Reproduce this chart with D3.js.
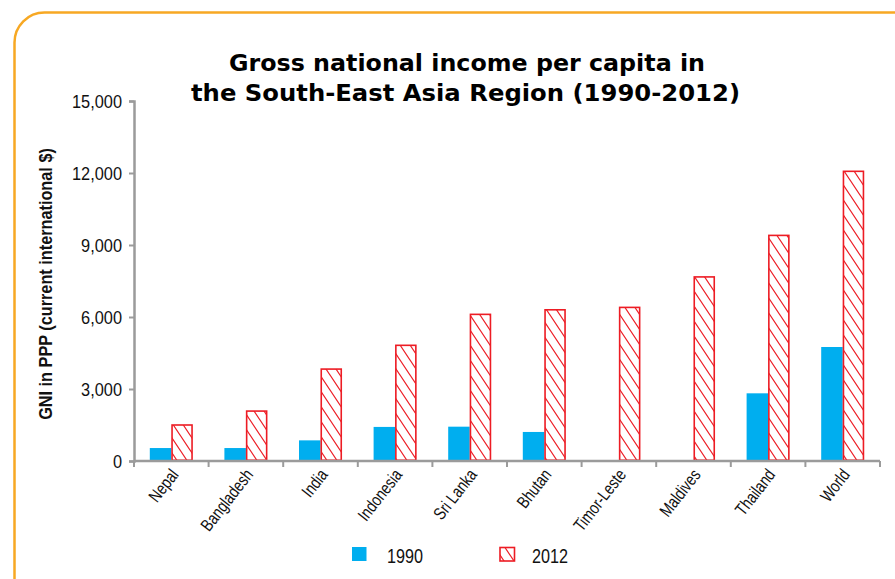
<!DOCTYPE html>
<html><head><meta charset="utf-8">
<script src="https://cdn.jsdelivr.net/npm/d3@7"></script>
<style>
html,body{margin:0;padding:0;background:#fff;}
svg{display:block;}
</style></head>
<body>
<svg id="chart" width="895" height="579"></svg>
<script>
const categories = ["Nepal","Bangladesh","India","Indonesia","Sri Lanka","Bhutan","Timor-Leste","Maldives","Thailand","World"];
const values1990 = [540, 540, 860, 1420, 1430, 1210, null, null, 2820, 4750];
const values2012 = [1500, 2080, 3830, 4820, 6110, 6300, 6400, 7670, 9400, 12070];
const yTicks = [0, 3000, 6000, 9000, 12000, 15000];
const seriesNames = ["1990", "2012"];
const titleLines = ["Gross national income per capita in", "the South-East Asia Region (1990-2012)"];
const yLabel = "GNI in PPP (current international $)";

const blue = "#00aeef", red = "#ed1c24", axisGray = "#9b9b9b";
const SANS = "Liberation Sans, Arial, Helvetica, sans-serif";
const svg = d3.select("#chart");
const mLeft = 134, mRight = 880, mTop = 101, mBottom = 461;

function measure(str, size, weight) {
  const t = svg.append("text").attr("font-family",SANS).attr("font-size",size)
    .attr("font-weight",weight||"normal").text(str);
  const w = t.node().getComputedTextLength();
  t.remove();
  return w;
}

const defs = svg.append("defs");
const pat = defs.append("pattern").attr("id","hatch").attr("patternUnits","userSpaceOnUse")
  .attr("width",10).attr("height",15);
pat.append("rect").attr("width",10).attr("height",15).attr("fill","#fff");
pat.append("path").attr("d","M-10,-15L20,30M-20,-15L10,30M0,-15L30,30").attr("stroke",red).attr("stroke-width",1.2).attr("fill","none");

// frame
svg.append("rect").attr("x",14.5).attr("y",12.5).attr("width",920).attr("height",620)
  .attr("rx",30).attr("ry",30).attr("fill","none").attr("stroke","#f7a823").attr("stroke-width",2.5);

// title
const titleW = [476, 549], titleCx = [467, 465.5], titleY = [71, 101];
svg.append("g").selectAll("text").data(titleLines).join("text")
  .attr("x",(d,i)=>titleCx[i]).attr("y",(d,i)=>titleY[i]).attr("text-anchor","middle")
  .attr("font-family","DejaVu Sans, Verdana, sans-serif").attr("font-weight","bold").attr("font-size",22.5)
  .attr("fill","#000")
  .attr("textLength",(d,i)=>titleW[i]).attr("lengthAdjust","spacingAndGlyphs").text(d=>d);

const x = d3.scaleBand().domain(categories).range([mLeft,mRight]).paddingInner(0).paddingOuter(0);
const y = d3.scaleLinear().domain([0,15000]).range([mBottom,mTop]);
const bw = 21.5;

// y axis
const gy = svg.append("g").attr("transform",`translate(${mLeft},0)`)
  .call(d3.axisLeft(y).tickValues(yTicks).tickFormat(d3.format(",")).tickSizeOuter(0).tickSize(5).tickPadding(6));
gy.select(".domain").attr("stroke",axisGray).attr("stroke-width",2.5);
gy.selectAll(".tick line").attr("stroke",axisGray).attr("stroke-width",2);
const tickSize = 19;
const tickScale = 50 / measure("15,000", tickSize);
gy.selectAll(".tick text").attr("font-family",SANS).attr("font-size",tickSize).attr("fill","#111")
  .attr("x",null).attr("dy",null)
  .attr("transform",`translate(-12,6.8) scale(${tickScale},1)`);

// bars
const g = svg.append("g");
categories.forEach((c,i)=>{
  const cx = x(c) + x.bandwidth()/2;
  if (values1990[i] != null) {
    g.append("rect").attr("x",cx-bw).attr("y",y(values1990[i])).attr("width",bw)
      .attr("height",y(0)-y(values1990[i])).attr("fill",blue);
  }
  if (values2012[i] != null) {
    g.append("rect").attr("x",cx+0.75).attr("y",y(values2012[i])).attr("width",bw-1.5)
      .attr("height",y(0)-y(values2012[i])-0.75).attr("fill","url(#hatch)")
      .attr("stroke",red).attr("stroke-width",1.6);
  }
});

// x axis
const gx = svg.append("g").attr("transform",`translate(0,${mBottom})`);
gx.append("line").attr("x1",mLeft).attr("x2",mRight).attr("stroke",axisGray).attr("stroke-width",2.5);
const bounds = categories.map(c=>x(c)).concat([mRight]);
gx.selectAll("line.tk").data(bounds).join("line").attr("class","tk")
  .attr("x1",d=>d).attr("x2",d=>d).attr("y1",0).attr("y2",6).attr("stroke",axisGray).attr("stroke-width",2);
const catSize = 17.5;
const catScale = 73 / measure("Bangladesh", catSize);
gx.selectAll("text").data(categories).join("text")
  .attr("transform",d=>`translate(${x(d)+x.bandwidth()/2+8},${14}) rotate(-52) scale(${catScale},1)`)
  .attr("text-anchor","end").attr("font-family",SANS)
  .attr("font-size",catSize).attr("fill","#111").text(d=>d);

// y label
const ylSize = 18.5;
const ylScale = 272 / measure(yLabel, ylSize, "bold");
svg.append("text").attr("transform",`translate(52,284) rotate(-90) scale(${ylScale},1)`).attr("text-anchor","middle")
  .attr("font-family",SANS).attr("font-weight","bold")
  .attr("font-size",ylSize).attr("fill","#111").text(yLabel);

// legend
const lgSize = 19.5;
const lgScale = 36 / measure("1990", lgSize);
const lg = svg.append("g");
lg.append("rect").attr("x",352).attr("y",547).attr("width",14.5).attr("height",14).attr("fill",blue);
lg.append("text").attr("transform",`translate(387,562.5) scale(${lgScale},1)`).attr("font-family",SANS)
  .attr("font-size",lgSize).attr("fill","#111").text(seriesNames[0]);
lg.append("rect").attr("x",500).attr("y",547.5).attr("width",14.5).attr("height",13.5).attr("fill","url(#hatch)")
  .attr("stroke",red).attr("stroke-width",1.6);
lg.append("text").attr("transform",`translate(532,562.5) scale(${lgScale},1)`).attr("font-family",SANS)
  .attr("font-size",lgSize).attr("fill","#111").text(seriesNames[1]);
</script>
</body></html>
